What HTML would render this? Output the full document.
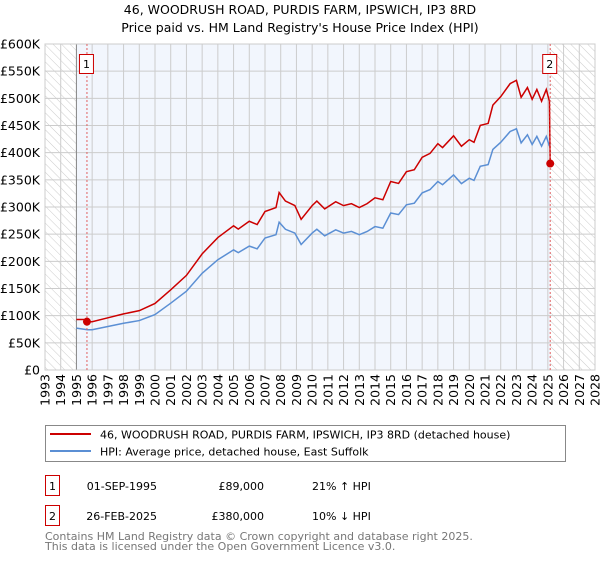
<!DOCTYPE html>
<html><head><meta charset="utf-8"><style>
body{margin:0;background:#fff;width:600px;height:560px;overflow:hidden;font-family:"DejaVu Sans","Liberation Sans",sans-serif;}
svg text{font-family:"DejaVu Sans","Liberation Sans",sans-serif;}
</style></head><body>
<svg id="chart" width="600" height="560" xmlns="http://www.w3.org/2000/svg">
<defs>
<pattern id="hatch" width="6" height="6" patternUnits="userSpaceOnUse" patternTransform="rotate(-45)"><line x1="0" y1="0" x2="0" y2="6" stroke="#ccc" stroke-width="1"/></pattern>
</defs>
<text x="300" y="14" text-anchor="middle" font-size="12.5">46, WOODRUSH ROAD, PURDIS FARM, IPSWICH, IP3 8RD</text>
<text x="300" y="32" text-anchor="middle" font-size="12.5">Price paid vs. HM Land Registry's House Price Index (HPI)</text>
<g id="plot"></g>
<g>
<rect x="45.5" y="425.5" width="520" height="36" fill="#fff" stroke="#888"/>
<line x1="50" y1="434" x2="91" y2="434" stroke="#cc0000" stroke-width="2"/>
<text x="100" y="438.5" font-size="11">46, WOODRUSH ROAD, PURDIS FARM, IPSWICH, IP3 8RD (detached house)</text>
<line x1="50" y1="451" x2="91" y2="451" stroke="#5b8fd4" stroke-width="2"/>
<text x="100" y="455.5" font-size="11">HPI: Average price, detached house, East Suffolk</text>
</g>
<g font-size="11">
<rect x="45.5" y="475.5" width="14" height="20" fill="#fff" stroke="#cc0000"/>
<text x="52.5" y="490" text-anchor="middle">1</text>
<text x="157" y="490" text-anchor="end">01-SEP-1995</text>
<text x="264" y="490" text-anchor="end">£89,000</text>
<text x="312" y="490">21% ↑ HPI</text>
<rect x="45.5" y="505.5" width="14" height="20" fill="#fff" stroke="#cc0000"/>
<text x="52.5" y="520" text-anchor="middle">2</text>
<text x="157" y="520" text-anchor="end">26-FEB-2025</text>
<text x="264" y="520" text-anchor="end">£380,000</text>
<text x="312" y="520">10% ↓ HPI</text>
</g>
<text x="45" y="540" font-size="11" fill="#777">Contains HM Land Registry data © Crown copyright and database right 2025.</text>
<text x="45" y="550" font-size="11" fill="#777">This data is licensed under the Open Government Licence v3.0.</text>
</svg>
<script>
const hpiYears=[1995.0,1995.7,1996,1997,1998,1999,2000,2001,2002,2003,2004,2005,2005.3,2006,2006.5,2007,2007.7,2007.9,2008.3,2008.9,2009.3,2010,2010.3,2010.8,2011.5,2012,2012.5,2013,2013.5,2014,2014.5,2015,2015.5,2016,2016.5,2017,2017.5,2018,2018.3,2019,2019.5,2020,2020.3,2020.7,2021.2,2021.5,2022,2022.6,2023,2023.3,2023.7,2024,2024.3,2024.6,2024.9,2025.1];
const hpiValues=[77,74,74,80,86,91,102,123,145,178,203,221,216,228,223,243,249,272,259,252,231,252,259,247,258,252,255,249,255,264,261,289,286,304,307,326,332,347,341,359,343,353,349,375,378,406,419,439,444,418,433,415,430,412,430,412];
const sales=[{year:1995.67,price:89},{year:2025.15,price:380}];
const preSalePrice=93;
const yTicks=[0,50,100,150,200,250,300,350,400,450,500,550,600];
const xTicks=[];for(let y=1993;y<=2028;y++)xTicks.push(y);
const X0=45,X1=595,Y0=370,Y1=44,YR0=1993,YR1=2028,VMAX=600;
const xs=y=>X0+(y-YR0)/(YR1-YR0)*(X1-X0);
const ys=v=>Y0-v/VMAX*(Y0-Y1);
const NS="http://www.w3.org/2000/svg";
const g=document.getElementById('plot');
function el(t,a){const e=document.createElementNS(NS,t);for(const k in a)e.setAttribute(k,a[k]);g.appendChild(e);return e;}
const bg=el('rect',{x:X0,y:Y1,width:X1-X0,height:Y0-Y1,fill:'#f2f6fd'});


const h1=el('rect',{x:X0,y:Y1,width:xs(1995)-X0,height:Y0-Y1,fill:'#fff'});


el('rect',{x:X0,y:Y1,width:xs(1995)-X0,height:Y0-Y1,fill:'url(#hatch)'});
const h2=el('rect',{x:xs(sales[1].year),y:Y1,width:X1-xs(sales[1].year),height:Y0-Y1,fill:'#fff'});


el('rect',{x:xs(sales[1].year),y:Y1,width:X1-xs(sales[1].year),height:Y0-Y1,fill:'url(#hatch)'});
yTicks.forEach(v=>{
 const l=el('line',{x1:X0,x2:X1,y1:ys(v),y2:ys(v),stroke:'#ccc'});
 
 
 const t=el('text',{x:40,y:ys(v)+4.5,'text-anchor':'end','font-size':'12.5'});
 t.textContent=v===0?'£0':'£'+v+'K';
 
 
});
xTicks.forEach(yr=>{
 const l=el('line',{x1:xs(yr),x2:xs(yr),y1:Y1,y2:Y0,stroke:'#ccc'});
 
 
 const t=el('text',{x:0,y:0,'font-size':'12.5','text-anchor':'end',transform:`translate(${xs(yr)+4.5},374) rotate(-90)`});
 t.textContent=yr;
 
 
});
el('line',{x1:xs(1995),x2:xs(1995),y1:Y1,y2:Y0,stroke:'#888'});
el('rect',{x:X0,y:Y1,width:X1-X0,height:Y0-Y1,fill:'none',stroke:'#ccc'});
// blue HPI
const bp=el('polyline',{points:hpiYears.map((y,i)=>xs(y)+','+ys(hpiValues[i])).join(' '),fill:'none',stroke:'#5b8fd4','stroke-width':1.5});


// red property line: indexed to HPI from sale 1
function hpiAt(y){for(let i=1;i<hpiYears.length;i++){if(y<=hpiYears[i]){const t=(y-hpiYears[i-1])/(hpiYears[i]-hpiYears[i-1]);return hpiValues[i-1]+t*(hpiValues[i]-hpiValues[i-1]);}}return hpiValues[hpiValues.length-1];}
const ratio=sales[0].price/hpiAt(sales[0].year);
const rpts=[[hpiYears[0],preSalePrice],[sales[0].year,preSalePrice],[sales[0].year,sales[0].price]];
hpiYears.forEach((y,i)=>{if(y>sales[0].year)rpts.push([y,hpiValues[i]*ratio]);});
rpts.push([sales[1].year,sales[1].price]);
const rp=el('polyline',{points:rpts.map(p=>xs(p[0])+','+ys(p[1])).join(' '),fill:'none',stroke:'#cc0000','stroke-width':1.5});


sales.forEach((s,i)=>{
 const v=el('line',{x1:xs(s.year),x2:xs(s.year),y1:Y1,y2:Y0,stroke:'#e06060','stroke-dasharray':'2,2'});
 
 
 const c=el('circle',{cx:xs(s.year),cy:ys(s.price),r:4,fill:'#cc0000'});
 
 
 const b=el('rect',{x:xs(s.year)-7.5,y:54.5,width:14,height:19,fill:'#fff',stroke:'#cc0000'});
 
 
 const t=el('text',{x:xs(s.year)-0.5,y:68,'text-anchor':'middle','font-size':'11'});
 t.textContent=String(i+1);
 
 
});
</script>
</body></html>
